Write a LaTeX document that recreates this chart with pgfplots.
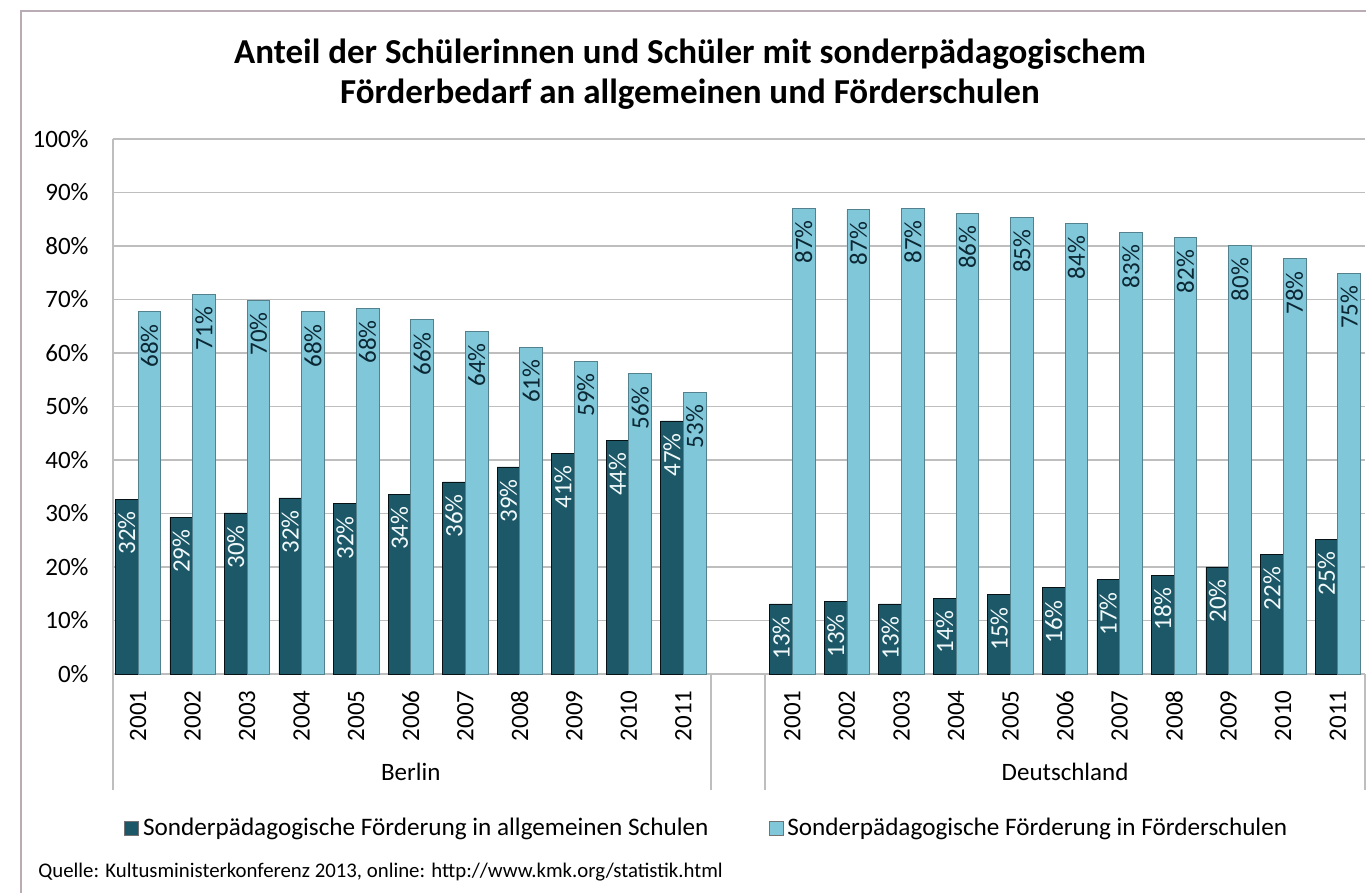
\documentclass[border=0pt]{standalone}
\usepackage{pgfplots}
\pgfplotsset{compat=1.18}
\usepackage{fontspec}
\setmainfont{Carlito}
\definecolor{darkbar}{RGB}{28,88,103}
\definecolor{lightbar}{RGB}{128,199,217}
\definecolor{gridc}{RGB}{190,190,190}
\definecolor{framec}{RGB}{185,172,180}
\definecolor{labdark}{RGB}{12,40,52}
\begin{document}
\begin{tikzpicture}
\useasboundingbox (-56.5pt,-109.5pt) rectangle (626.5pt,337pt);
\fill[white] (-56.5pt,-109.5pt) rectangle (626.5pt,337pt);
\draw[framec, line width=0.9pt] (-46pt,-120pt) -- (-46pt,331.5pt) -- (640pt,331.5pt);
\begin{axis}[
  scale only axis, width=626pt, height=267.5pt,
  xmin=-0.46, xmax=22.5, ymin=0, ymax=100,
  axis lines*=left,
  axis line style={gridc, line width=0.9pt},
  ymajorgrids, grid style={gridc, line width=0.9pt},
  ytick={0,10,...,100},
  yticklabel={\pgfmathprintnumber{\tick}\%},
  xtick={0,1,2,3,4,5,6,7,8,9,10,12,13,14,15,16,17,18,19,20,21,22},
  xticklabels={2001,2002,2003,2004,2005,2006,2007,2008,2009,2010,2011,2001,2002,2003,2004,2005,2006,2007,2008,2009,2010,2011},
  xticklabel style={rotate=90, anchor=east, inner xsep=8pt},
  yticklabel style={anchor=east, inner xsep=12pt},
  major tick length=0pt,
  /pgf/number format/assume math mode=true,
  ticklabel style={font=\fontsize{12.5}{14}\selectfont},
  clip=false,
  ybar, bar width=11.35pt,
  legend columns=2,
  legend style={at={(0.475,-0.288)}, anchor=center, draw=none, fill=none,
    font=\fontsize{12.6}{15}\selectfont,
    /tikz/every even column/.append style={column sep=28pt}},
  legend image code/.code={\draw[#1, draw=black!55] (0pt,-3.5pt) rectangle (7pt,3.5pt);},
]
\addplot[fill=darkbar, draw=black!80!darkbar, bar shift=-5.675pt,
  point meta=explicit symbolic, nodes near coords={\pgfplotspointmeta\%},
  every node near coord/.append style={rotate=90, anchor=east, inner xsep=6pt,
    text=white!88!lightbar, font=\fontsize{12.5}{14}\selectfont}]
coordinates {
(0,32.7)[32] (1,29.3)[29] (2,30.1)[30] (3,32.9)[32] (4,31.8)[32] (5,33.6)[34]
(6,35.9)[36] (7,38.7)[39] (8,41.3)[41] (9,43.7)[44] (10,47.3)[47]
(12,13.1)[13] (13,13.5)[13] (14,13.1)[13] (15,14.2)[14] (16,14.8)[15] (17,16.1)[16]
(18,17.6)[17] (19,18.5)[18] (20,20.0)[20] (21,22.3)[22] (22,25.1)[25]
};
\addlegendentry{Sonderpädagogische Förderung in allgemeinen Schulen}
\addplot[fill=lightbar, draw=black!35!lightbar, bar shift=5.675pt,
  point meta=explicit symbolic, nodes near coords={\pgfplotspointmeta\%},
  every node near coord/.append style={rotate=90, anchor=east, inner xsep=6pt,
    text=labdark, font=\fontsize{12.5}{14}\selectfont}]
coordinates {
(0,67.7)[68] (1,70.9)[71] (2,69.9)[70] (3,67.7)[68] (4,68.4)[68] (5,66.2)[66]
(6,64.1)[64] (7,61.1)[61] (8,58.5)[59] (9,56.1)[56] (10,52.6)[53]
(12,87.1)[87] (13,86.8)[87] (14,87.1)[87] (15,86.1)[86] (16,85.4)[85] (17,84.2)[84]
(18,82.5)[83] (19,81.6)[82] (20,80.1)[80] (21,77.6)[78] (22,74.9)[75]
};
\addlegendentry{Sonderpädagogische Förderung in Förderschulen}
\draw[gridc, line width=0.9pt] (axis cs:-0.46,0) -- ++(0pt,-58pt);
\draw[gridc, line width=0.9pt] (axis cs:10.5,0) -- ++(0pt,-58pt);
\draw[gridc, line width=0.9pt] (axis cs:11.5,0) -- ++(0pt,-58pt);
\draw[gridc, line width=0.9pt] (axis cs:22.5,0) -- ++(0pt,-58pt);
\node[font=\fontsize{12.5}{14}\selectfont] at ([yshift=-49pt]axis cs:5,0) {Berlin};
\node[font=\fontsize{12.5}{14}\selectfont] at ([yshift=-49pt]axis cs:17,0) {Deutschland};
\end{axis}
\node[anchor=base, font=\bfseries\fontsize{17.5}{20}\selectfont] at (288.5pt,305pt) {Anteil der Schülerinnen und Schüler mit sonderpädagogischem};
\node[anchor=base, font=\bfseries\fontsize{17.5}{20}\selectfont] at (288.5pt,285pt) {Förderbedarf an allgemeinen und Förderschulen};
\node[anchor=west, inner sep=0pt, font=\fontsize{10.4}{12}\selectfont] at (-37.5pt,-99pt) {Quelle: Kultusministerkonferenz 2013, online: http://www.kmk.org/statistik.html};
\end{tikzpicture}
\end{document}
